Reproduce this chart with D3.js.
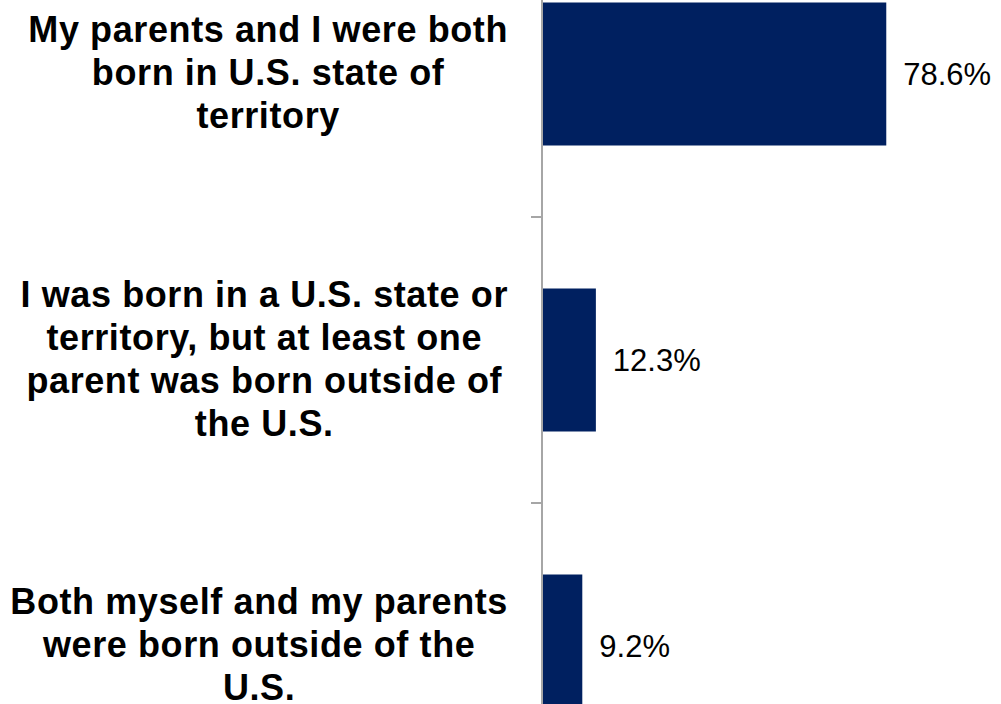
<!DOCTYPE html>
<html>
<head>
<meta charset="utf-8">
<script src="https://cdn.jsdelivr.net/npm/d3@7"></script>
<style>
  html, body { margin: 0; padding: 0; background: #fff; }
  svg { display: block; }
</style>
</head>
<body>
<svg id="chart" width="1001" height="704"></svg>
<script>
const categories = [
  "My parents and I were both born in U.S. state of territory",
  "I was born in a U.S. state or territory, but at least one parent was born outside of the U.S.",
  "Both myself and my parents were born outside of the U.S."
];
const labelLines = [
  ["My parents and I were both", "born in U.S. state of", "territory"],
  ["I was born in a U.S. state or", "territory, but at least one", "parent was born outside of", "the U.S."],
  ["Both myself and my parents", "were born outside of the", "U.S."]
];
const values = [78.6, 12.3, 9.2];
const valueLabels = ["78.6%", "12.3%", "9.2%"];

const svg = d3.select("#chart");
const axisX = 542;

const y = d3.scaleBand().domain(categories).range([-69, 789]).paddingInner(0.5).paddingOuter(0.25);
const x = d3.scaleLinear().domain([0, 100]).range([axisX, 980]);

// bars
svg.selectAll("rect.bar").data(values).enter().append("rect")
  .attr("class", "bar")
  .attr("x", x(0))
  .attr("y", (d, i) => y(categories[i]))
  .attr("width", d => x(d) - x(0))
  .attr("height", y.bandwidth())
  .attr("fill", "#002060");

// axis
const gAxis = svg.append("g").attr("transform", `translate(${axisX},0)`);
gAxis.append("line").attr("x1", 0).attr("x2", 0).attr("y1", 0).attr("y2", 704)
  .attr("stroke", "#a6a6a6").attr("stroke-width", 2);
gAxis.selectAll("line.tick").data(categories.slice(1)).enter().append("line")
  .attr("class", "tick")
  .attr("x1", -11).attr("x2", 0)
  .attr("y1", c => y(c) - (y.step() - y.bandwidth()) / 2)
  .attr("y2", c => y(c) - (y.step() - y.bandwidth()) / 2)
  .attr("stroke", "#a6a6a6").attr("stroke-width", 2);

// category labels: each block centred in a box whose right edge is fixed
const lineH = 43;
const capH = 25;
const labelRight = 508;
categories.forEach((c, i) => {
  const cy = y(c) + y.bandwidth() / 2 - 1.5;
  const lines = labelLines[i];
  const first = cy - (lines.length - 1) * lineH / 2 + capH / 2;
  const t = svg.append("text")
    .attr("text-anchor", "middle")
    .attr("font-family", "Liberation Sans, Arial, sans-serif")
    .attr("font-weight", "bold")
    .attr("font-size", 36)
    .attr("letter-spacing", 0.6)
    .attr("fill", "#000");
  const spans = lines.map((l, j) =>
    t.append("tspan").attr("x", 0).attr("y", first + j * lineH).text(l));
  const maxW = d3.max(spans, s => s.node().getComputedTextLength());
  const cx = labelRight - maxW / 2;
  spans.forEach(s => s.attr("x", cx));
});

// value labels
svg.selectAll("text.val").data(values).enter().append("text")
  .attr("class", "val")
  .attr("x", d => x(d) + 17)
  .attr("y", (d, i) => y(categories[i]) + y.bandwidth() / 2 + 11)
  .attr("font-family", "Liberation Sans, Arial, sans-serif")
  .attr("font-size", 31)
  .attr("fill", "#000")
  .text((d, i) => valueLabels[i]);
</script>
</body>
</html>
